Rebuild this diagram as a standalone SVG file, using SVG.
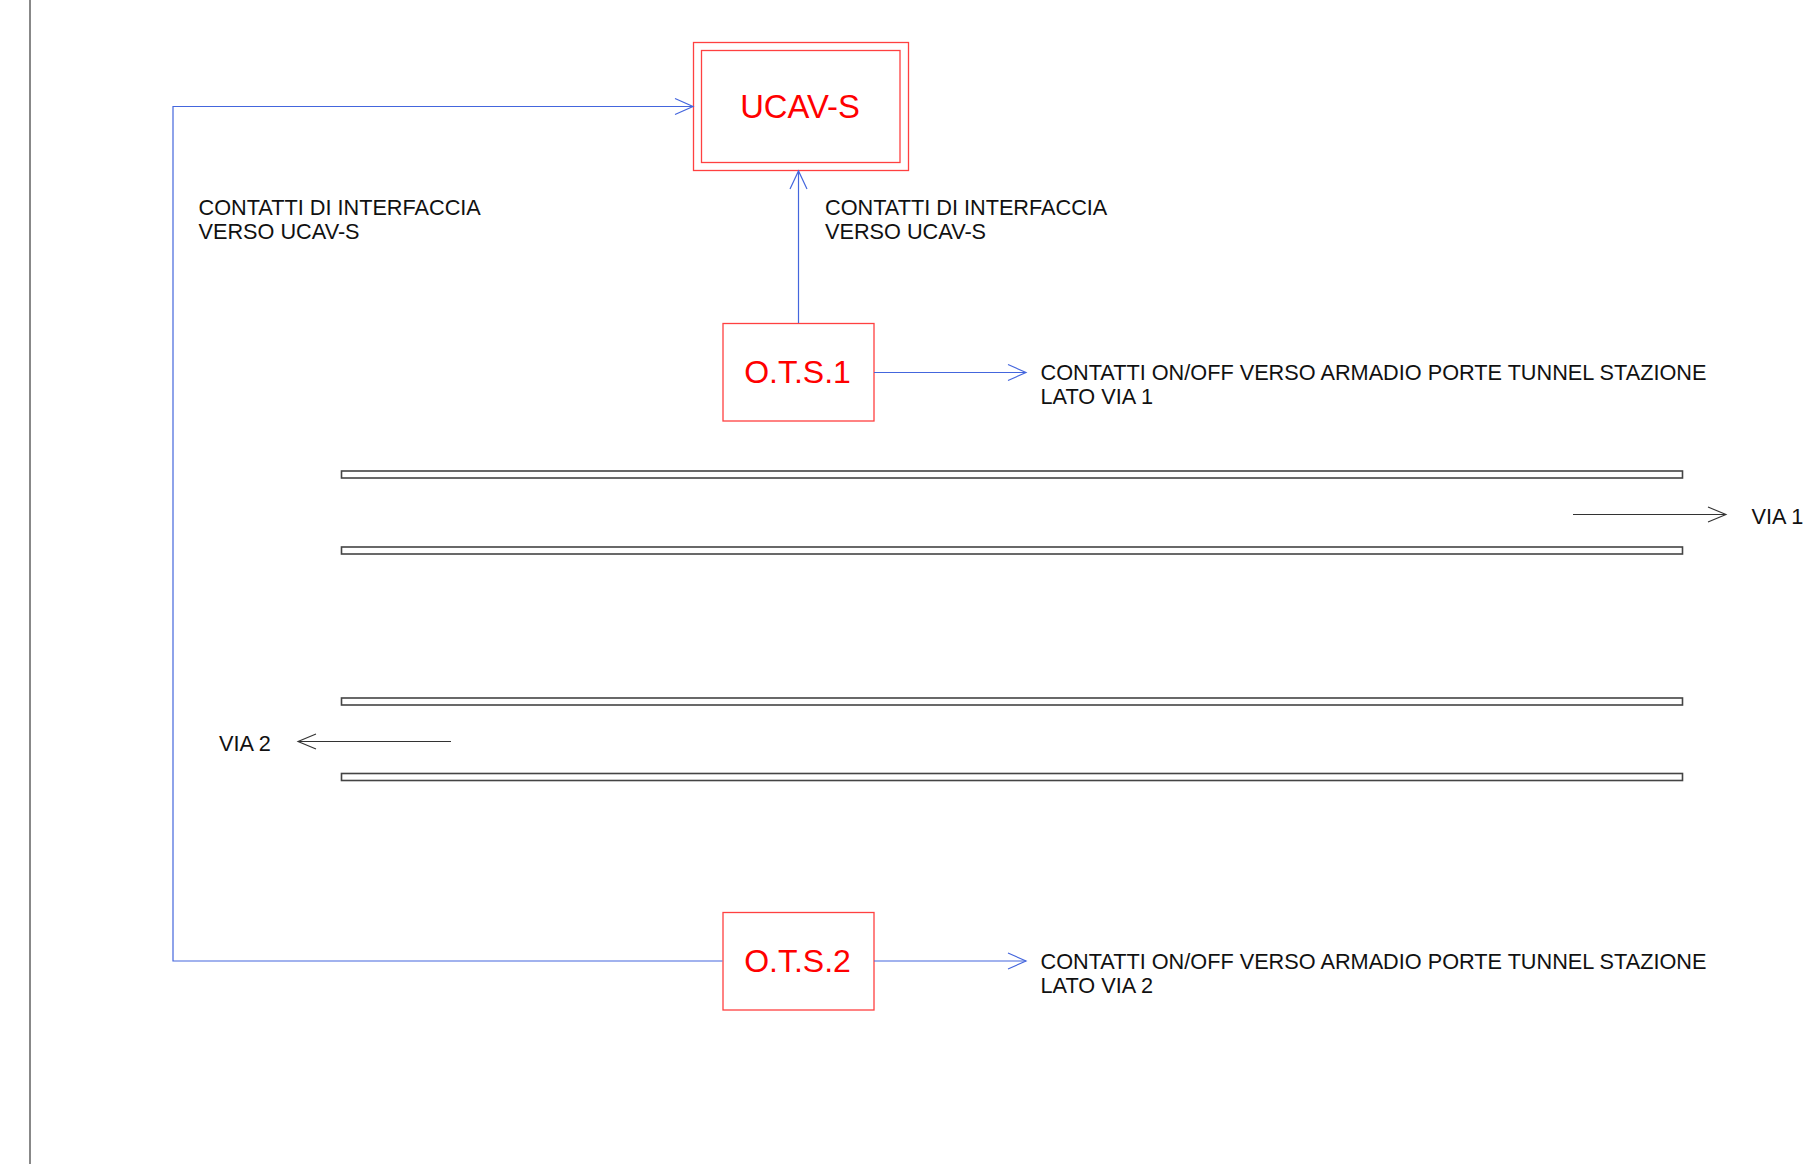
<svg xmlns="http://www.w3.org/2000/svg" width="1808" height="1164" viewBox="0 0 1808 1164">
<style>
.box{fill:none;stroke:#ff4040;stroke-width:1.3}
.lbl{font-family:"Liberation Sans",Arial,sans-serif;font-size:21.7px;fill:#111}
.nt{font-family:"Liberation Sans",Arial,sans-serif;fill:#ff0000;text-anchor:middle}
.con{fill:none;stroke:#4466dd;stroke-width:1.2}
.arr{fill:none;stroke:#4466dd;stroke-width:1.2}
.blk{fill:none;stroke:#333;stroke-width:1.1}
.rail{fill:#fff;stroke:#444;stroke-width:1.6}
</style>
<rect width="1808" height="1164" fill="#fff"/>
<line x1="30" y1="0" x2="30" y2="1164" stroke="#888" stroke-width="2"/>
<g id="rails">
<rect class="rail" x="341.5" y="471" width="1341" height="7"/>
<rect class="rail" x="341.5" y="547" width="1341" height="7"/>
<rect class="rail" x="341.5" y="698" width="1341" height="7"/>
<rect class="rail" x="341.5" y="773.5" width="1341" height="7"/>
</g>
<g id="ucav">
<rect class="box" x="693.5" y="42.5" width="215" height="128"/>
<rect class="box" x="701.5" y="50.5" width="198.5" height="112"/>
<text class="nt" x="800" y="118" font-size="32.8">UCAV-S</text>
</g>
<g id="ots1">
<rect class="box" x="723" y="323.5" width="151" height="97.5"/>
<text class="nt" x="797.5" y="383" font-size="32">O.T.S.1</text>
</g>
<g id="ots2">
<rect class="box" x="723" y="912.5" width="151" height="97.5"/>
<text class="nt" x="797.5" y="972" font-size="32">O.T.S.2</text>
</g>
<g id="connectors">
<polyline class="con" points="722.5,961 173,961 173,106.5 693,106.5"/>
<polyline class="arr" points="675,98.5 693,106.5 675,114.5"/>
<line class="con" x1="798.5" y1="323" x2="798.5" y2="171"/>
<polyline class="arr" points="790,189 798.5,171 807,189"/>
<line class="con" x1="874" y1="372.5" x2="1026" y2="372.5"/>
<polyline class="arr" points="1008,364.5 1026,372.5 1008,380.5"/>
<line class="con" x1="874" y1="961" x2="1026" y2="961"/>
<polyline class="arr" points="1008,953 1026,961 1008,969"/>
<line class="blk" x1="1573" y1="514.5" x2="1726" y2="514.5"/>
<polyline class="blk" points="1708,507 1726,514.5 1708,522"/>
<line class="blk" x1="451" y1="741.5" x2="298" y2="741.5"/>
<polyline class="blk" points="316,734 298,741.5 316,749"/>
</g>
<g id="labels">
<text class="lbl" x="198.5" y="215">CONTATTI DI INTERFACCIA</text>
<text class="lbl" x="198.5" y="239">VERSO UCAV-S</text>
<text class="lbl" x="825" y="215">CONTATTI DI INTERFACCIA</text>
<text class="lbl" x="825" y="239">VERSO UCAV-S</text>
<text class="lbl" x="1040.5" y="380">CONTATTI ON/OFF VERSO ARMADIO PORTE TUNNEL STAZIONE</text>
<text class="lbl" x="1040.5" y="403.5">LATO VIA 1</text>
<text class="lbl" x="1040.5" y="968.5">CONTATTI ON/OFF VERSO ARMADIO PORTE TUNNEL STAZIONE</text>
<text class="lbl" x="1040.5" y="992.5">LATO VIA 2</text>
<text class="lbl" x="1751.5" y="524">VIA 1</text>
<text class="lbl" x="219" y="750.5">VIA 2</text>
</g>
</svg>
